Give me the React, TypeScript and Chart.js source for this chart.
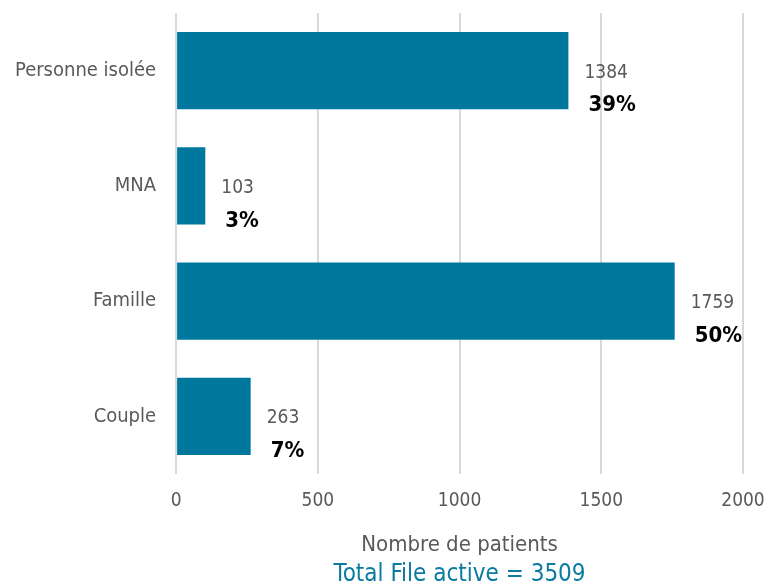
import React, { useEffect, useRef } from "react";
import { Chart, registerables } from "chart.js";

Chart.register(...registerables);

const categories = ["Personne isolée", "MNA", "Famille", "Couple"];
const patients = [1384, 103, 1759, 263];
const xTicks = [0, 500, 1000, 1500, 2000];
const totalActive = 3509;

const FONT = "'Liberation Sans Narrow', 'Arial Narrow', 'DejaVu Sans Condensed', sans-serif";

const labelPlugin = {
  id: "barLabels",
  afterDatasetsDraw(chart: any) {
    const ctx = chart.ctx;
    const meta = chart.getDatasetMeta(0);
    ctx.save();
    meta.data.forEach((bar: any, i: number) => {
      const v = patients[i];
      const pct = Math.round((v / totalActive) * 100);
      ctx.textAlign = "left";
      ctx.textBaseline = "middle";
      ctx.fillStyle = "#595959";
      ctx.font = `19px ${FONT}`;
      ctx.fillText(String(v), bar.x + 16, bar.y + 2);
      ctx.fillStyle = "#000000";
      ctx.font = `bold 22px ${FONT}`;
      ctx.fillText(`${pct}%`, bar.x + 20, bar.y + 35);
    });
    ctx.restore();
  },
};

export default function App() {
  const ref = useRef<HTMLCanvasElement>(null);
  useEffect(() => {
    document.body.style.margin = "0";
    const chart = new Chart(ref.current!, {
      type: "bar",
      data: {
        labels: categories,
        datasets: [
          {
            data: patients,
            backgroundColor: "#00779c",
            categoryPercentage: 0.67,
            barPercentage: 1,
          },
        ],
      },
      options: {
        indexAxis: "y",
        responsive: false,
        animation: false,
        layout: { padding: { top: 13, right: 25, left: -5, bottom: 0 } },
        plugins: {
          legend: { display: false },
          tooltip: { enabled: false },
          title: {
            display: true,
            position: "bottom",
            fullSize: false,
            text: `Total File active = ${totalActive}`,
            color: "#0a7ba0",
            font: { family: FONT, size: 24, weight: "normal" },
            padding: { top: 0, bottom: -3 },
          },
        },
        scales: {
          x: {
            min: 0,
            max: 2000,
            afterBuildTicks: (axis: any) => {
              axis.ticks = xTicks.map((v) => ({ value: v }));
            },
            afterFit: (s: any) => {
              s.paddingLeft = 0;
              s.paddingRight = 0;
            },
            grid: { color: "#d9d9d9", lineWidth: 2, drawTicks: false },
            border: { display: false },
            ticks: {
              color: "#595959",
              font: { family: FONT, size: 19 },
              padding: 16,
              callback: (v: any) => String(v),
            },
            title: {
              display: true,
              text: "Nombre de patients",
              color: "#595959",
              font: { family: FONT, size: 22 },
              padding: { top: 3, bottom: 2 },
            },
          },
          y: {
            afterFit: (s: any) => {
              s.paddingTop = 0;
              s.paddingBottom = 0;
            },
            grid: { display: false, drawTicks: false },
            border: { display: false },
            ticks: {
              color: "#595959",
              font: { family: FONT, size: 20 },
              padding: 20,
            },
          },
        },
      },
      plugins: [labelPlugin],
    });
    return () => chart.destroy();
  }, []);
  return <canvas ref={ref} width={768} height={586} style={{ display: "block" }} />;
}
